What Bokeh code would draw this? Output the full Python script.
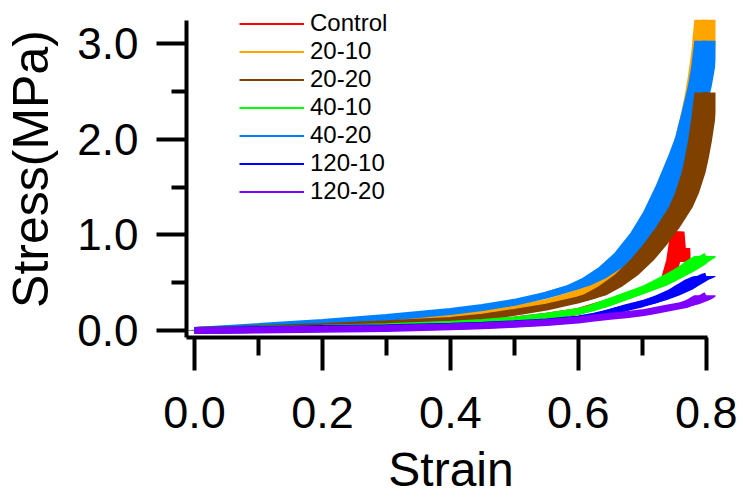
from bokeh.plotting import figure
from bokeh.models import FixedTicker, PrintfTickFormatter, Range1d, Legend, LegendItem
from bokeh.embed import file_html
from bokeh.resources import INLINE

# ---------------- data ----------------
series_names = ["Control", "20-10", "20-20", "40-10", "40-20", "120-10", "120-20"]
colors = ["#FF0000", "#FFA500", "#804000", "#00FF00", "#0080FF", "#0000FF", "#8000FF"]

strain_grid = [0, 0.1, 0.2, 0.3, 0.4, 0.45, 0.5, 0.55, 0.6, 0.625, 0.65, 0.675, 0.7, 0.72,
               0.74, 0.76, 0.77, 0.78, 0.785, 0.79, 0.795, 0.80]

s20_10_stress = [0, 0.03, 0.06, 0.1, 0.15, 0.19, 0.235, 0.29, 0.39, 0.45, 0.55, 0.68, 0.9, 1.15,
                 1.45, 1.8, 2.02, 2.3, 2.46, 2.66, 2.9, 3.25]
s20_20_stress = [0, 0.02, 0.042, 0.07, 0.105, 0.14, 0.19, 0.245, 0.32, 0.37, 0.46, 0.58, 0.74, 0.9,
                 1.08, 1.29, 1.44, 1.65, 1.80, 1.98, 2.2, 2.49]
s40_10_stress = [0, 0.012, 0.025, 0.04, 0.065, 0.085, 0.11, 0.15, 0.2, 0.24, 0.3, 0.36, 0.42, 0.47,
                 0.54, 0.61, 0.65, 0.69, 0.72, 0.74, 0.76, 0.78]
s40_20_stress = [0, 0.042, 0.085, 0.137, 0.2, 0.24, 0.295, 0.37, 0.47, 0.55, 0.66, 0.81, 1.02, 1.24,
                 1.52, 1.84, 2.02, 2.28, 2.42, 2.56, 2.75, 3.03]
s120_10_stress = [0, 0.01, 0.02, 0.03, 0.045, 0.056, 0.07, 0.09, 0.12, 0.15, 0.19, 0.24, 0.28, 0.32,
                  0.37, 0.43, 0.47, 0.51, 0.53, 0.545, 0.56, 0.57]
s120_20_stress = [0, 0.006, 0.012, 0.022, 0.04, 0.05, 0.065, 0.085, 0.11, 0.13, 0.15, 0.165, 0.185, 0.21,
                  0.235, 0.26, 0.275, 0.30, 0.315, 0.33, 0.35, 0.37]

control_strain = [0, 0.1, 0.2, 0.3, 0.4, 0.5, 0.55, 0.6, 0.65, 0.7, 0.72, 0.74, 0.748, 0.755, 0.758, 0.775]
control_stress = [0, 0.012, 0.025, 0.04, 0.065, 0.11, 0.15, 0.2, 0.3, 0.42, 0.47, 0.53, 0.72, 1.03, 0.79, 0.79]

x_ticks = [0.0, 0.2, 0.4, 0.6, 0.8]
x_minor = [0.1, 0.3, 0.5, 0.7]
y_ticks = [0.0, 1.0, 2.0, 3.0]
y_minor = [0.5, 1.5, 2.5]

# ---------------- figure ----------------
FONT = "Liberation Sans"
p = figure(width=743, height=499,
           x_range=Range1d(-0.0125, 0.8144), y_range=Range1d(-0.073, 3.452),
           output_backend="svg", toolbar_location=None,
           min_border_left=185, min_border_right=28, min_border_top=0, min_border_bottom=162)
p.outline_line_color = None
p.xgrid.visible = False
p.ygrid.visible = False

HALF = 0.0187   # half band width (strain units)
LW = 7

def band(xs, ys, color):
    p.harea(y=ys, x1=[x - HALF for x in xs], x2=[x + HALF for x in xs], fill_color=color)
    p.line(xs, ys, line_color=color, line_width=LW, line_cap="butt")

# Control: thin body, thick end with peak and drop
p.line(control_strain, control_stress, line_color=colors[0], line_width=LW)
p.line(control_strain[11:], control_stress[11:], line_color=colors[0], line_width=14, line_join="bevel")

band(strain_grid, s20_10_stress, colors[1])
band(strain_grid, s40_20_stress, colors[4])
band(strain_grid, s20_20_stress, colors[2])
band(strain_grid, s40_10_stress, colors[3])
band(strain_grid, s120_10_stress, colors[5])
band(strain_grid, s120_20_stress, colors[6])

# ---------------- axes ----------------
for ax in (p.xaxis[0], p.yaxis[0]):
    ax.axis_line_width = 4
    ax.axis_line_color = "black"
    ax.major_tick_line_width = 4
    ax.minor_tick_line_width = 4
    ax.major_tick_line_color = "black"
    ax.minor_tick_line_color = "black"
    ax.major_tick_in = 0
    ax.minor_tick_in = 0
    ax.major_label_text_font = FONT
    ax.major_label_text_color = "black"
    ax.axis_label_text_font = FONT
    ax.axis_label_text_font_style = "normal"
    ax.axis_label_text_color = "black"
    ax.formatter = PrintfTickFormatter(format="%.1f")

xa = p.xaxis[0]
xa.ticker = FixedTicker(ticks=x_ticks, minor_ticks=x_minor)
xa.bounds = (-0.0125, 0.802)
xa.major_tick_out = 33
xa.minor_tick_out = 18
xa.major_label_text_font_size = "45px"
xa.major_label_standoff = 26
xa.axis_label = "Strain"
xa.axis_label_text_font_size = "48px"
xa.axis_label_standoff = 12

ya = p.yaxis[0]
ya.ticker = FixedTicker(ticks=y_ticks, minor_ticks=y_minor)
ya.bounds = (-0.073, 3.243)
ya.major_tick_out = 30
ya.minor_tick_out = 15
ya.major_label_text_font_size = "44px"
ya.major_label_standoff = 18
ya.axis_label = "Stress(MPa)"
ya.axis_label_text_font_size = "50px"
ya.axis_label_standoff = 15

# ---------------- legend ----------------
all_stress = [control_stress, s20_10_stress, s20_20_stress, s40_10_stress,
              s40_20_stress, s120_10_stress, s120_20_stress]
items = []
for name, c, ys in zip(series_names, colors, all_stress):
    r = p.line(x=strain_grid[:1], y=ys[:1], line_color=c, line_width=2)
    items.append(LegendItem(label=name, renderers=[r]))
legend = Legend(items=items, location=(53, 132),
                label_text_font=FONT, label_text_font_size="24px", label_text_color="black",
                glyph_width=65, glyph_height=27, label_height=27, label_standoff=6,
                spacing=0, padding=0, margin=0,
                border_line_color=None, background_fill_alpha=0)
p.add_layout(legend)

open("out.html", "w").write(file_html(p, INLINE))
